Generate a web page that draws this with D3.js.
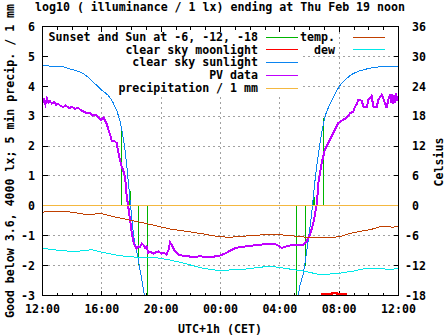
<!DOCTYPE html>
<html><head><meta charset="utf-8">
<script src="https://cdn.jsdelivr.net/npm/d3@7"></script>
<style>
html,body{margin:0;padding:0;background:#fff;}
text{font-family:"DejaVu Sans Mono",monospace;font-weight:bold;font-size:11.6px;fill:#000;}
</style></head><body>
<svg id="c" width="447" height="335"></svg>
<script>
// ---- data (hours after Wed 12:00 CET) ----
const xTickHours = [0, 4, 8, 12, 16, 20, 24];
const xTickLabels = ["12:00", "16:00", "20:00", "00:00", "04:00", "08:00", "12:00"];
const yTicks = [-3, -2, -1, 0, 1, 2, 3, 4, 5, 6];
const y2Ticks = [-18, -12, -6, 0, 6, 12, 18, 24, 30, 36];

// Sunset and Sun at -6, -12, -18 (impulses, log10 lx)
const sunEventHours = [5.34, 5.90, 6.46, 7.07, 17.11, 17.72, 18.31, 18.93];
const sunEventValues = [2.6, 0.5, -1.97, -3.6, -3.6, -2.0, 0.28, 2.95];

// clear sky moonlight
const moonHours = [18.80, 18.85, 19.50, 19.52, 19.85, 19.87, 20.45, 20.50];
const moonValues = [-3.4, -2.96, -2.96, -2.92, -2.92, -2.96, -2.96, -3.4];

// clear sky sunlight
const sunHours = [0, 1.18, 1.85, 2.75, 3.88, 4.67, 5.23, 5.56, 5.90, 6.12, 6.46, 6.80, 6.98, 7.30,
  17.00, 17.25, 17.59, 17.92, 18.15, 18.38, 18.71, 19.05, 19.39, 20.06, 20.74, 21.86, 22.96, 24];
const sunValues = [4.68, 4.67, 4.58, 4.42, 3.92, 3.53, 2.82, 1.88, 0.21, -0.9, -1.8, -2.8, -3.3, -5,
  -5, -2.97, -2.24, -1.13, -0.24, 0.88, 2.1, 2.99, 3.41, 4.03, 4.36, 4.58, 4.66, 4.67];

// PV data
const pvHours = [0.03, 0.10, 0.20, 0.30, 0.40, 0.50, 0.64, 0.78, 0.91, 1.05, 1.18, 1.38, 1.58, 1.79, 1.99,
  2.19, 2.39, 2.60, 2.80, 3.00, 3.20, 3.40, 3.61, 3.81, 3.94, 4.10, 4.21, 4.35, 4.44, 4.55, 4.67, 4.82,
  5.00, 5.09, 5.22, 5.34, 5.43, 5.56, 5.68, 5.78, 5.90, 6.02, 6.12, 6.24, 6.34, 6.46, 6.57, 6.69, 6.80,
  6.93, 7.02, 7.13, 7.31, 7.47, 7.65, 7.81, 8.04, 8.19, 8.37, 8.51, 8.60, 8.71, 8.85, 8.93, 9.16, 9.49,
  9.81, 10.17, 10.62, 11.07, 11.43, 11.70, 11.97, 12.30, 12.64, 12.98, 13.32, 13.99, 14.67, 15.34, 15.79,
  16.13, 16.46, 16.91, 17.58, 17.81, 18.04, 18.26, 18.49, 18.60, 18.82, 19.04, 19.38, 19.72, 19.94, 20.28,
  20.51, 20.73, 20.96, 21.07, 21.19, 21.30, 21.52, 21.63, 21.86, 21.97, 22.19, 22.30, 22.53, 22.64, 22.87,
  23.09, 23.20, 23.31, 23.43, 23.50, 23.56, 23.63, 23.70, 23.77, 23.84, 23.90, 24.0];
const pvValues = [3.45, 3.55, 3.40, 3.60, 3.45, 3.50, 3.42, 3.48, 3.38, 3.42, 3.36, 3.30, 3.36, 3.26, 3.32,
  3.24, 3.28, 3.20, 3.14, 3.10, 3.12, 3.02, 3.04, 2.94, 2.86, 2.96, 2.86, 2.72, 2.55, 2.40, 2.16, 2.18,
  2.10, 1.85, 1.54, 1.32, 1.20, 0.99, 0.32, -0.02, -0.46, -0.91, -1.19, -1.35, -1.42, -1.35, -1.38, -1.26, -1.30,
  -1.41, -1.35, -1.57, -1.55, -1.60, -1.55, -1.52, -1.60, -1.57, -1.63, -1.45, -1.22, -1.30, -1.45, -1.52, -1.63, -1.67,
  -1.69, -1.71, -1.69, -1.71, -1.72, -1.68, -1.66, -1.60, -1.50, -1.42, -1.38, -1.34, -1.30, -1.26, -1.30,
  -1.41, -1.35, -1.30, -1.30, -1.19, -0.96, -0.57, 0.04, 0.77, 1.43, 1.88, 2.21, 2.55, 2.77, 2.88,
  2.95, 3.10, 3.15, 3.32, 3.40, 3.55, 3.52, 3.32, 3.30, 3.55, 3.68, 3.32, 3.30, 3.55, 3.72,
  3.44, 3.27, 3.55, 3.72, 3.45, 3.75, 3.40, 3.70, 3.45, 3.78, 3.50, 3.65];

// precipitation / 1 mm (5 min sums)
const precipHours = [0, 3, 6, 9, 12, 15, 18, 21, 24];
const precipValues = [0, 0, 0, 0, 0, 0, 0, 0, 0];

// temperature and dew point (Celsius)
const tempHours = [0, 0.42, 1.77, 2.89, 4.01, 5.14, 6.26, 7.38, 8.51, 9.63, 10.76, 11.88, 12.64, 13.99,
  15.34, 16.01, 17.14, 18.04, 19.16, 20.06, 20.51, 21.41, 22.08, 22.76, 23.30, 23.66, 24];
const tempValues = [-1.3, -1.1, -1.2, -1.7, -1.6, -2.4, -3.1, -3.8, -4.6, -5.1, -5.6, -6.2, -6.3, -6.0,
  -5.7, -5.8, -6.1, -6.4, -6.4, -6.2, -5.7, -5.1, -4.8, -4.2, -4.2, -4.3, -4.0];
const dewHours = [0, 0.65, 1.77, 2.44, 3.34, 4.01, 5.14, 6.26, 7.38, 8.51, 9.63, 10.76, 11.88, 13.65,
  15.34, 16.24, 17.59, 18.71, 19.84, 20.96, 21.86, 22.76, 23.30, 23.66, 24];
const dewValues = [-8.5, -8.8, -9.1, -9.1, -8.8, -9.3, -10.0, -10.3, -10.3, -10.8, -11.6, -12.5, -13.0, -12.7,
  -12.1, -12.5, -13.1, -13.8, -13.6, -13.1, -12.5, -12.5, -12.8, -12.7, -12.5];

const legendLeft = ["Sunset and Sun at -6, -12, -18", "clear sky moonlight", "clear sky sunlight", "PV data", "precipitation / 1 mm"];
const legendLeftColors = ["#00b400", "#ff0000", "#0a84f0", "#c000ff", "#f4b840"];
const legendRight = ["temp.", "dew"];
const legendRightColors = ["#c04000", "#00e8e8"];

// ---- layout ----
const L = 42.5, R = 398.5, T = 26.5, B = 295.5;
const svg = d3.select("#c");
const x = d3.scaleLinear().domain([0, 24]).range([L, R]);
const y = d3.scaleLinear().domain([-3, 6]).range([B, T]);
const y2 = d3.scaleLinear().domain([-18, 36]).range([B, T]);

svg.append("defs").append("clipPath").attr("id", "clip")
  .append("rect").attr("x", L).attr("y", T).attr("width", R - L).attr("height", B - T);

// grid
const grid = svg.append("g").attr("stroke", "#a0a0a0").attr("stroke-dasharray", "2,3")
  .attr("shape-rendering", "crispEdges");
yTicks.filter(v => v > -3 && v < 6).forEach(v => {
  grid.append("line").attr("x1", L).attr("x2", R).attr("y1", y(v)).attr("y2", y(v));
});
xTickHours.filter(h => h > 0 && h < 24).forEach(h => {
  grid.append("line").attr("x1", x(h)).attr("x2", x(h)).attr("y1", T).attr("y2", B);
});
// key background hides grid
svg.append("rect").attr("x", 48).attr("y", 27).attr("width", 254).attr("height", 68).attr("fill", "#fff");

// ticks
const ticks = svg.append("g").attr("stroke", "#000").attr("shape-rendering", "crispEdges");
yTicks.forEach(v => {
  ticks.append("line").attr("x1", L).attr("x2", L + 5).attr("y1", y(v)).attr("y2", y(v));
  ticks.append("line").attr("x1", R - 5).attr("x2", R).attr("y1", y(v)).attr("y2", y(v));
});
d3.range(0, 25).forEach(h => {
  const len = xTickHours.includes(h) ? 5 : 3;
  ticks.append("line").attr("x1", x(h)).attr("x2", x(h)).attr("y1", B).attr("y2", B - len);
  ticks.append("line").attr("x1", x(h)).attr("x2", x(h)).attr("y1", T).attr("y2", T + len);
});

// data
const plot = svg.append("g").attr("clip-path", "url(#clip)").attr("fill", "none")
  .attr("shape-rendering", "crispEdges");
const line = (ys) => d3.line().x(d => x(d[0])).y(d => ys(d[1]));
const zip = (a, b) => a.map((v, i) => [v, b[i]]);

sunEventHours.forEach((h, i) => {
  plot.append("line").attr("x1", x(h)).attr("x2", x(h)).attr("y1", y(0)).attr("y2", y(sunEventValues[i]))
    .attr("stroke", legendLeftColors[0]).attr("stroke-width", 1.3);
});
plot.append("path").datum(zip(moonHours, moonValues)).attr("d", line(y))
  .attr("stroke", legendLeftColors[1]).attr("stroke-width", 2);
plot.append("path").datum(zip(sunHours, sunValues)).attr("d", line(y).curve(d3.curveMonotoneX))
  .attr("stroke", legendLeftColors[2]).attr("stroke-width", 1);
plot.append("path").datum(zip(pvHours, pvValues)).attr("d", line(y))
  .attr("stroke", legendLeftColors[3]).attr("stroke-width", 2);
plot.append("path").datum(zip(precipHours, precipValues)).attr("d", line(y))
  .attr("stroke", legendLeftColors[4]).attr("stroke-width", 1.3);
plot.append("path").datum(zip(tempHours, tempValues)).attr("d", line(y2))
  .attr("stroke", legendRightColors[0]).attr("stroke-width", 1);
plot.append("path").datum(zip(dewHours, dewValues)).attr("d", line(y2))
  .attr("stroke", legendRightColors[1]).attr("stroke-width", 1);

// border
svg.append("rect").attr("x", L).attr("y", T).attr("width", R - L).attr("height", B - T)
  .attr("fill", "none").attr("stroke", "#000").attr("shape-rendering", "crispEdges");

// tick labels
yTicks.forEach(v => {
  svg.append("text").attr("x", 35).attr("y", y(v) + 4.3).attr("text-anchor", "end").text(v);
});
y2Ticks.forEach(v => {
  svg.append("text").attr("x", v < 0 ? 405 : 412).attr("y", y2(v) + 4.3).text(v);
});
xTickHours.forEach((h, i) => {
  svg.append("text").attr("x", x(h)).attr("y", 313).attr("text-anchor", "middle").text(xTickLabels[i]);
});

// titles
svg.append("text").attr("x", 220).attr("y", 11).attr("text-anchor", "middle")
  .text("log10 ( illuminance / 1 lx) ending at Thu Feb 19 noon");
svg.append("text").attr("x", 220).attr("y", 333).attr("text-anchor", "middle").text("UTC+1h (CET)");
svg.append("text").attr("transform", "translate(14,161) rotate(-90)").attr("text-anchor", "middle")
  .text("Good below 3.6, 4000 lx; 5 min precip. / 1 mm");
svg.append("text").attr("transform", "translate(443,162) rotate(-90)").attr("text-anchor", "middle")
  .text("Celsius");

// legend
const rowY = i => 36.5 + i * 12.75;
legendLeft.forEach((t, i) => {
  svg.append("text").attr("x", 258).attr("y", rowY(i) + 4.3).attr("text-anchor", "end").text(t);
  svg.append("line").attr("x1", 266).attr("x2", 298).attr("y1", Math.round(rowY(i)) + 0.5).attr("y2", Math.round(rowY(i)) + 0.5)
    .attr("stroke", legendLeftColors[i]).attr("stroke-width", 1).attr("shape-rendering", "crispEdges");
});
legendRight.forEach((t, i) => {
  svg.append("text").attr("x", 335).attr("y", rowY(i) + 4.3).attr("text-anchor", "end").text(t);
  svg.append("line").attr("x1", 353).attr("x2", 385).attr("y1", Math.round(rowY(i)) + 0.5).attr("y2", Math.round(rowY(i)) + 0.5)
    .attr("stroke", legendRightColors[i]).attr("stroke-width", 1).attr("shape-rendering", "crispEdges");
});
</script>
</body></html>
